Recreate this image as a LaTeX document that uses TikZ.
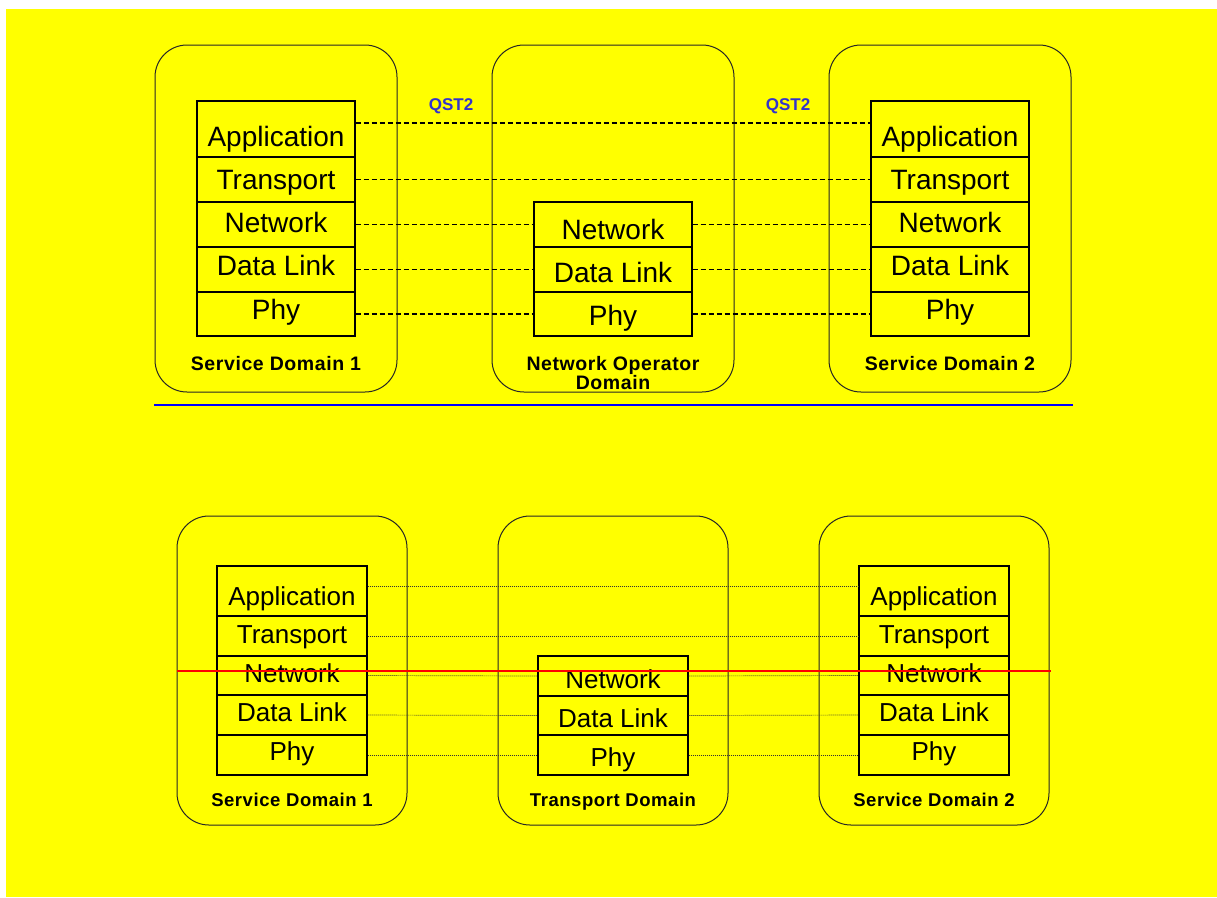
\documentclass[tikz,border=0pt]{standalone}
\usepackage{fontspec}
\setmainfont{Liberation Sans}
\newfontfamily\lblfont[LetterSpace=3]{Liberation Sans}
\definecolor{bgyellow}{RGB}{255,255,0}
\definecolor{qblue}{RGB}{51,51,204}
\begin{document}
\begin{tikzpicture}[x=1pt,y=-1pt,
  dombox/.style={draw=black!85,line width=1pt,rounded corners=32pt,rectangle,inner sep=0pt},
  cell/.style={draw=black,line width=1.3pt,rectangle,inner sep=0pt},
  bigtxt/.style={anchor=base,inner sep=0pt,font=\fontsize{28}{28}\selectfont},
  smtxt/.style={anchor=base,inner sep=0pt,font=\fontsize{26}{26}\selectfont},
  toplbl/.style={anchor=base,inner sep=0pt,font=\lblfont\bfseries\fontsize{19.5}{19}\selectfont},
  botlbl/.style={anchor=base,inner sep=0pt,font=\lblfont\bfseries\fontsize{18.5}{19}\selectfont},
  qst/.style={anchor=base,inner sep=0pt,text=qblue,font=\bfseries\fontsize{17}{17}\selectfont},
  qlink/.style={draw=black,dash pattern=on 5pt off 3pt,line width=1.2pt},
  tlink/.style={draw=black!80,dash pattern=on 1pt off 1pt,line width=0.7pt},
]
\useasboundingbox (0,0) rectangle (1217,897);
\fill[white] (0,0) rectangle (1217,897);
\fill[bgyellow] (6,9) rectangle (1217,897);

% ---------- top row domains ----------
\node[dombox,minimum width=242pt,minimum height=347pt] (d1) at (276,218.5) {};
\node[dombox,minimum width=242pt,minimum height=347pt] (dm) at (613,218.5) {};
\node[dombox,minimum width=242pt,minimum height=347pt] (d3) at (950,218.5) {};

% ---------- top row stacks ----------
\node[cell,minimum width=158pt,minimum height=56pt] (t1app) at (276,129) {};
\node[cell,minimum width=158pt,minimum height=45pt] (t1tr)  at (276,179.5) {};
\node[cell,minimum width=158pt,minimum height=45pt] (t1net) at (276,224.5) {};
\node[cell,minimum width=158pt,minimum height=45pt] (t1dl)  at (276,269.5) {};
\node[cell,minimum width=158pt,minimum height=44pt] (t1phy) at (276,314) {};

\node[cell,minimum width=158pt,minimum height=45pt] (tmnet) at (613,224.5) {};
\node[cell,minimum width=158pt,minimum height=45pt] (tmdl)  at (613,269.5) {};
\node[cell,minimum width=158pt,minimum height=44pt] (tmphy) at (613,314) {};

\node[cell,minimum width=158pt,minimum height=56pt] (t3app) at (950,129) {};
\node[cell,minimum width=158pt,minimum height=45pt] (t3tr)  at (950,179.5) {};
\node[cell,minimum width=158pt,minimum height=45pt] (t3net) at (950,224.5) {};
\node[cell,minimum width=158pt,minimum height=45pt] (t3dl)  at (950,269.5) {};
\node[cell,minimum width=158pt,minimum height=44pt] (t3phy) at (950,314) {};

% top connectors
\draw[qlink] ([yshift=6pt]t1app.east) -- ([yshift=6pt]t3app.west);
\draw[qlink] (t1tr.east) -- (t3tr.west);
\draw[qlink] (t1net.east) -- (tmnet.west);
\draw[qlink] (tmnet.east) -- (t3net.west);
\draw[qlink] (t1dl.east) -- (tmdl.west);
\draw[qlink] (tmdl.east) -- (t3dl.west);
\draw[qlink] (t1phy.east) -- (tmphy.west);
\draw[qlink] (tmphy.east) -- (t3phy.west);

% top texts
\node[bigtxt] (t1appT) at (276,146) {Application};
\node[bigtxt] (t1trT)  at (276,189) {Transport};
\node[bigtxt] (t1netT) at (276,232) {Network};
\node[bigtxt] (t1dlT)  at (276,275) {Data Link};
\node[bigtxt] (t1phyT) at (276,319) {Phy};

\node[bigtxt] (tmnetT) at (613,239) {Network};
\node[bigtxt] (tmdlT)  at (613,282) {Data Link};
\node[bigtxt] (tmphyT) at (613,325) {Phy};

\node[bigtxt] (t3appT) at (950,146) {Application};
\node[bigtxt] (t3trT)  at (950,189) {Transport};
\node[bigtxt] (t3netT) at (950,232) {Network};
\node[bigtxt] (t3dlT)  at (950,275) {Data Link};
\node[bigtxt] (t3phyT) at (950,319) {Phy};

\node[toplbl] (d1L) at (276,370) {Service Domain 1};
\node[toplbl,anchor=north,align=center] (dmL) at (613,356) {Network Operator\\Domain};
\node[toplbl] (d3L) at (950,370) {Service Domain 2};

\node[qst] (q1) at (451,110) {QST2};
\node[qst] (q2) at (788,110) {QST2};

% separator
\coordinate (sepL) at (154,405);
\coordinate (sepR) at (1073,405);
\draw[blue,line width=2pt] (sepL) -- (sepR);

% ---------- bottom row domains ----------
\node[dombox,minimum width=230pt,minimum height=309pt] (b1) at (292,670.5) {};
\node[dombox,minimum width=230pt,minimum height=309pt] (bm) at (613,670.5) {};
\node[dombox,minimum width=230pt,minimum height=309pt] (b3) at (934,670.5) {};

% bottom stacks
\node[cell,minimum width=150pt,minimum height=50pt] (b1app) at (292,591) {};
\node[cell,minimum width=150pt,minimum height=40pt] (b1tr)  at (292,636) {};
\node[cell,minimum width=150pt,minimum height=39pt] (b1net) at (292,675.5) {};
\node[cell,minimum width=150pt,minimum height=40pt] (b1dl)  at (292,715) {};
\node[cell,minimum width=150pt,minimum height=40pt] (b1phy) at (292,755) {};

\node[cell,minimum width=150pt,minimum height=40pt] (bmnet) at (613,676) {};
\node[cell,minimum width=150pt,minimum height=39pt] (bmdl)  at (613,715.5) {};
\node[cell,minimum width=150pt,minimum height=40pt] (bmphy) at (613,755) {};

\node[cell,minimum width=150pt,minimum height=50pt] (b3app) at (934,591) {};
\node[cell,minimum width=150pt,minimum height=40pt] (b3tr)  at (934,636) {};
\node[cell,minimum width=150pt,minimum height=39pt] (b3net) at (934,675.5) {};
\node[cell,minimum width=150pt,minimum height=40pt] (b3dl)  at (934,715) {};
\node[cell,minimum width=150pt,minimum height=40pt] (b3phy) at (934,755) {};

% bottom connectors
\draw[tlink] ([yshift=5pt]b1app.east) -- ([yshift=5pt]b3app.west);
\draw[tlink] (b1tr.east) -- (b3tr.west);
\draw[tlink] (b1net.east) -- (bmnet.west);
\draw[tlink] (bmnet.east) -- (b3net.west);
\draw[tlink] (b1dl.east) -- (bmdl.west);
\draw[tlink] (bmdl.east) -- (b3dl.west);
\draw[tlink] (b1phy.east) -- (bmphy.west);
\draw[tlink] (bmphy.east) -- (b3phy.west);

% bottom texts
\node[smtxt] (b1appT) at (292,605) {Application};
\node[smtxt] (b1trT)  at (292,643) {Transport};
\node[smtxt] (b1netT) at (292,682) {Network};
\node[smtxt] (b1dlT)  at (292,721) {Data Link};
\node[smtxt] (b1phyT) at (292,760) {Phy};

\node[smtxt] (bmnetT) at (613,688) {Network};
\node[smtxt] (bmdlT)  at (613,727) {Data Link};
\node[smtxt] (bmphyT) at (613,766) {Phy};

\node[smtxt] (b3appT) at (934,605) {Application};
\node[smtxt] (b3trT)  at (934,643) {Transport};
\node[smtxt] (b3netT) at (934,682) {Network};
\node[smtxt] (b3dlT)  at (934,721) {Data Link};
\node[smtxt] (b3phyT) at (934,760) {Phy};

\node[botlbl] (b1L) at (292,806) {Service Domain 1};
\node[botlbl] (bmL) at (613,806) {Transport Domain};
\node[botlbl] (b3L) at (934,806) {Service Domain 2};

% red line
\coordinate (redL) at (177,671);
\coordinate (redR) at (1051,671);
\draw[red,line width=2pt] (redL) -- (redR);
\end{tikzpicture}
\end{document}
